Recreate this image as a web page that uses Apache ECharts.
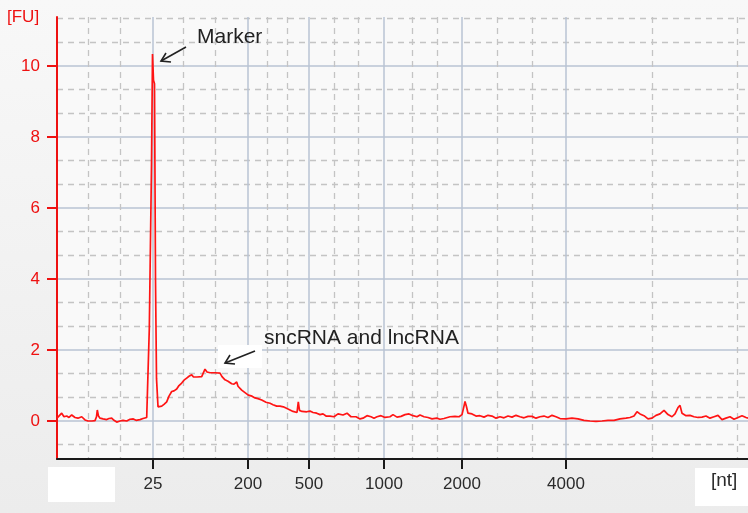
<!DOCTYPE html>
<html>
<head>
<meta charset="utf-8">
<script src="https://cdn.jsdelivr.net/npm/echarts@6/dist/echarts.min.js"></script>
<style>
  html, body { margin: 0; padding: 0; }
  #main { width: 748px; height: 513px; }
</style>
</head>
<body>
<div id="main"></div>
<script>
// migration time (arbitrary units) and fluorescence [FU]
var time = [0.0, 0.2, 0.47, 0.7, 0.97, 1.2, 1.47, 1.8, 2.1, 2.47, 2.8, 3.1, 3.5, 3.8, 3.95, 4.03, 4.15, 4.3, 4.6, 4.97,
    5.2, 5.47, 5.7, 5.97, 6.3, 6.6, 6.97, 7.3, 7.63, 7.9, 8.3, 8.6, 8.97, 9.15, 9.23, 9.35, 9.45, 9.55, 9.65, 9.75,
    9.85, 9.95, 10.1, 10.47, 10.7, 10.97, 11.2, 11.47, 11.7, 11.97, 12.2, 12.47, 12.7, 12.97, 13.2, 13.47, 13.65, 14.0, 14.47, 14.65,
    14.8, 15.0, 15.3, 15.8, 16.3, 16.5, 16.8, 17.1, 17.47, 17.7, 17.97, 18.1, 18.47, 18.8, 19.13, 19.5, 19.8, 20.1, 20.47, 20.9,
    21.3, 21.6, 21.97, 22.3, 22.63, 23.0, 23.3, 23.6, 23.8, 24.0, 24.13, 24.25, 24.5, 24.97, 25.3, 25.6, 25.97, 26.3, 26.6, 26.9,
    27.3, 27.7, 28.1, 28.6, 29.0, 29.4, 29.9, 30.3, 30.6, 31.0, 31.4, 31.7, 32.0, 32.4, 32.8, 33.3, 33.6, 34.0, 34.4, 34.8,
    35.2, 35.6, 36.0, 36.3, 36.7, 37.1, 37.5, 37.97, 38.3, 38.7, 39.3, 39.8, 40.2, 40.5, 40.7, 40.8, 40.95, 41.1, 41.5, 41.9,
    42.3, 42.7, 43.1, 43.5, 43.9, 44.3, 44.7, 45.1, 45.5, 45.9, 46.3, 46.7, 47.1, 47.5, 47.9, 48.3, 48.7, 49.1, 49.5, 49.9,
    50.3, 50.9, 51.5, 52.1, 52.7, 53.3, 53.9, 54.5, 55.1, 55.7, 56.3, 56.9, 57.3, 57.7, 58.0, 58.3, 58.7, 59.1, 59.5, 59.9,
    60.3, 60.7, 61.1, 61.5, 61.8, 62.1, 62.3, 62.5, 62.9, 63.3, 63.7, 64.1, 64.5, 64.9, 65.3, 65.7, 66.1, 66.5, 66.9, 67.3,
    67.7, 68.1, 68.5, 68.9, 69.1];
var fu = [0.08, 0.12, 0.22, 0.12, 0.14, 0.10, 0.17, 0.10, 0.08, 0.12, 0.03, 0.0, 0.0, 0.01, 0.12, 0.31, 0.14, 0.08, 0.06, 0.04,
    0.07, 0.08, 0.02, -0.03, 0.0, 0.02, 0.0, 0.05, 0.06, 0.02, 0.04, 0.07, 0.10, 0.15, 2.6, 2.65, 7.2, 10.34, 9.6, 9.5,
    4.0, 1.2, 0.4, 0.42, 0.47, 0.54, 0.7, 0.83, 0.85, 0.9, 1.0, 1.07, 1.15, 1.21, 1.26, 1.3, 1.24, 1.24, 1.25, 1.3,
    1.46, 1.38, 1.36, 1.36, 1.35, 1.25, 1.16, 1.12, 1.05, 1.04, 1.1, 0.98, 0.87, 0.8, 0.73, 0.7, 0.65, 0.63, 0.59, 0.53,
    0.5, 0.46, 0.42, 0.42, 0.4, 0.35, 0.31, 0.27, 0.23, 0.24, 0.54, 0.3, 0.27, 0.26, 0.28, 0.24, 0.22, 0.18, 0.2, 0.14,
    0.14, 0.12, 0.2, 0.17, 0.22, 0.12, 0.12, 0.06, 0.08, 0.15, 0.12, 0.08, 0.12, 0.15, 0.1, 0.12, 0.18, 0.11, 0.13, 0.18,
    0.2, 0.15, 0.12, 0.17, 0.12, 0.1, 0.06, 0.08, 0.05, 0.07, 0.12, 0.13, 0.12, 0.18, 0.42, 0.55, 0.4, 0.22, 0.2, 0.14,
    0.15, 0.11, 0.16, 0.14, 0.08, 0.12, 0.09, 0.14, 0.11, 0.16, 0.12, 0.09, 0.13, 0.13, 0.08, 0.12, 0.14, 0.1, 0.16, 0.12,
    0.07, 0.06, 0.08, 0.06, 0.02, 0.0, -0.01, 0.0, 0.02, 0.02, 0.06, 0.08, 0.1, 0.14, 0.26, 0.2, 0.15, 0.06, 0.08, 0.16,
    0.2, 0.3, 0.18, 0.12, 0.2, 0.38, 0.44, 0.22, 0.15, 0.16, 0.12, 0.1, 0.11, 0.14, 0.08, 0.12, 0.16, 0.04, 0.08, 0.12,
    0.05, 0.1, 0.15, 0.1, 0.08];

// size ladder labels [nt] and where they sit on the time axis
var ntLabels = ['25', '200', '500', '1000', '2000', '4000'];
var ntPos = [9.6, 19.1, 25.2, 32.7, 40.5, 50.9];
var xMinorPos = [3.1, 6.3, 12.6, 15.8, 21.0, 23.0, 27.7, 30.1, 35.5, 38.0, 44.0, 47.5, 59.5, 68.0];
var yTicks = [0, 2, 4, 6, 8, 10];
var yMinorTicks = [-0.667, 0.667, 1.333, 2.667, 3.333, 4.667, 5.333, 6.667, 7.333, 8.667, 9.333, 10.667, 11.333];

var X_MIN = 0, X_MAX = 69.1, Y_MIN = -1.07, Y_MAX = 11.38;
var FONT = '"Liberation Sans", Arial, sans-serif';

var trace = time.map(function (t, i) { return [t, fu[i]]; });

var myChart = echarts.init(document.getElementById('main'));
var option = {
    animation: false,
    backgroundColor: new echarts.graphic.LinearGradient(0, 0, 0, 1, [
        { offset: 0, color: '#f8f8f8' },
        { offset: 1, color: '#ececec' }
    ]),
    grid: {
        left: 57, right: 0, top: 17, bottom: 54,
        show: true, backgroundColor: '#f9f9f9', borderWidth: 0
    },
    xAxis: [{
        type: 'value', min: X_MIN, max: X_MAX,
        axisLine: { onZero: false, lineStyle: { color: '#1a1a1a', width: 2 } },
        axisTick: { customValues: ntPos, length: 10, lineStyle: { color: '#1a1a1a', width: 2 } },
        axisLabel: {
            customValues: ntPos, margin: 17, color: '#2a2a2a', fontSize: 17, fontFamily: FONT,
            formatter: function (v) {
                var best = 0;
                for (var i = 1; i < ntPos.length; i++) {
                    if (Math.abs(ntPos[i] - v) < Math.abs(ntPos[best] - v)) best = i;
                }
                return ntLabels[best];
            }
        },
        splitLine: { show: true, lineStyle: { color: '#b9c3d3', width: 1.5 } }
    }, {
        type: 'value', min: X_MIN, max: X_MAX, position: 'bottom',
        axisLine: { show: false },
        axisTick: { show: false, customValues: xMinorPos },
        axisLabel: { show: false, customValues: xMinorPos },
        splitLine: { show: true, lineStyle: { color: '#c4c4c4', width: 1.3, type: [6, 5] } }
    }],
    yAxis: [{
        type: 'value', min: Y_MIN, max: Y_MAX,
        axisLine: { show: true, onZero: false, lineStyle: { color: '#ee1111', width: 2 } },
        axisTick: { show: true, customValues: yTicks, length: 10, lineStyle: { color: '#ee1111', width: 2 } },
        axisLabel: { customValues: yTicks, margin: 17, color: '#ee1111', fontSize: 17, fontFamily: FONT },
        splitLine: { show: true, lineStyle: { color: '#b9c3d3', width: 1.5 } }
    }, {
        type: 'value', min: Y_MIN, max: Y_MAX, position: 'left',
        axisLine: { show: false },
        axisTick: { show: false, customValues: yMinorTicks },
        axisLabel: { show: false, customValues: yMinorTicks },
        splitLine: { show: true, lineStyle: { color: '#c4c4c4', width: 1.3, type: [6, 5] } }
    }],
    series: [{
        type: 'line',
        xAxisIndex: 0,
        yAxisIndex: 0,
        data: trace,
        showSymbol: false,
        lineStyle: { color: '#ff1414', width: 1.7 },
        z: 5
    }],
    graphic: [
        { type: 'text', z: 100, left: 7, top: 9, style: { text: '[FU]', fill: '#ee1111', font: '17px ' + FONT } },
        // white patches of the original figure
        { type: 'rect', z: 100, shape: { x: 48, y: 467, width: 67, height: 35 }, style: { fill: '#ffffff' } },
        { type: 'rect', z: 100, shape: { x: 695, y: 468, width: 53, height: 38 }, style: { fill: '#ffffff' } },
        { type: 'text', z: 101, left: 711, top: 471, style: { text: '[nt]', fill: '#2a2a2a', font: '19px ' + FONT } },
        // Marker annotation
        { type: 'text', z: 100, left: 197, top: 27, style: { text: 'Marker', fill: '#222', font: '21px ' + FONT } },
        { type: 'polyline', z: 100, shape: { points: [[186, 47], [161, 61]] }, style: { stroke: '#222', lineWidth: 1.6 } },
        { type: 'polyline', z: 100, shape: { points: [[166, 53], [161, 61], [171, 62]] }, style: { stroke: '#222', lineWidth: 1.6, fill: null } },
        // sncRNA / lncRNA annotation
        { type: 'rect', z: 99, shape: { x: 218, y: 345, width: 44, height: 23 }, style: { fill: '#ffffff' } },
        { type: 'text', z: 100, left: 264, top: 328, style: { text: 'sncRNA and lncRNA', fill: '#222', font: '21px ' + FONT } },
        { type: 'polyline', z: 100, shape: { points: [[255, 351], [225, 363]] }, style: { stroke: '#222', lineWidth: 1.6 } },
        { type: 'polyline', z: 100, shape: { points: [[230, 355], [225, 363], [235, 364]] }, style: { stroke: '#222', lineWidth: 1.6, fill: null } }
    ]
};
myChart.setOption(option);
</script>
</body>
</html>
